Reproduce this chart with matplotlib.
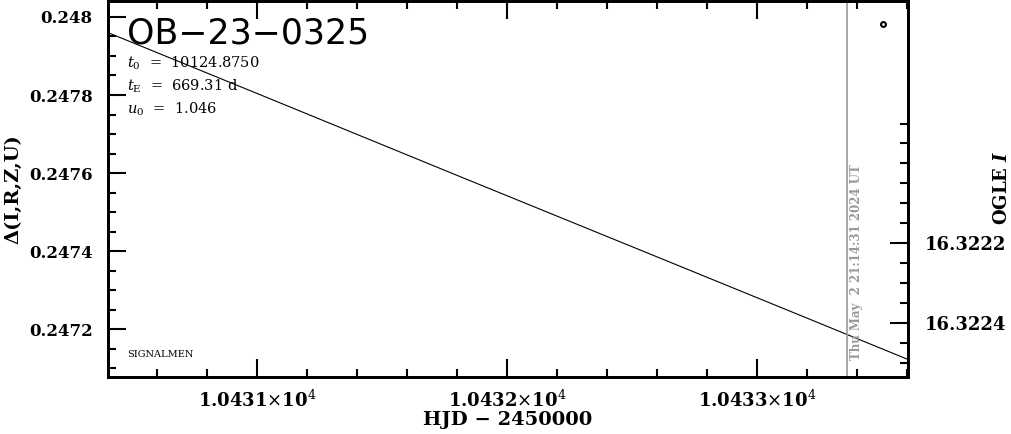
import matplotlib
matplotlib.use('Agg')
import matplotlib.pyplot as plt
from matplotlib.ticker import MultipleLocator, FixedLocator, FuncFormatter

# model curve (HJD-2450000, delta flux)
model_t = [10430.40, 10431.00, 10431.80, 10432.60, 10433.20, 10433.60]
model_d = [0.247961, 0.247804, 0.247594, 0.247385, 0.247228, 0.247123]

# single OGLE point
obs_t = [10433.504]
obs_d = [0.247983]

now_t = 10433.36
now_label = 'Thu May  2 21:14:31 2024 UT'

event = 'OB\u221223\u22120325'
params = [r'$t_0$  =  10124.8750', r'$t_{\rm E}$  =  669.31 d', r'$u_0$  =  1.046']

xlim = (10430.404, 10433.604)
ylim = (0.247077, 0.248041)
mag_lim = (16.322535, 16.321593)
mag_ticks = [16.3222, 16.3224]
mag_minor = [16.32190, 16.32195, 16.32200, 16.32205, 16.32210, 16.32215,
             16.32225, 16.32230, 16.32235, 16.32245, 16.32250]

plt.rcParams['font.family'] = 'DejaVu Serif'
plt.rcParams['mathtext.fontset'] = 'dejavuserif'

fig = plt.figure(figsize=(10.11, 4.34), dpi=100)
ax = fig.add_axes([108 / 1011, 57 / 434, 800 / 1011, 376 / 434])

ax.plot(model_t, model_d, color='black', lw=0.8)
ax.plot(obs_t, obs_d, 'o', ms=3.5, mfc='white', mec='black', mew=1.5)
ax.axvline(now_t, color='#999999', lw=1.2)
ax.text(now_t + 0.037, 0.24712, now_label, rotation=90, color='#999999',
        fontsize=8.5, fontweight='bold', ha='center', va='bottom')

ax.set_xlim(*xlim)
ax.set_ylim(*ylim)

ax.xaxis.set_major_locator(MultipleLocator(1))
ax.xaxis.set_minor_locator(MultipleLocator(0.2))
ax.xaxis.set_major_formatter(FuncFormatter(lambda v, p: r'%.4f$\times$10$^4$' % (v / 1e4)))
ax.yaxis.set_major_locator(MultipleLocator(0.0002))
ax.yaxis.set_minor_locator(MultipleLocator(0.00005))
ax.yaxis.set_major_formatter(FuncFormatter(lambda v, p: ('%.4f' % v).rstrip('0')))

ax.tick_params(which='both', direction='in', top=True, right=False, width=1.5)
ax.tick_params(which='major', length=13)
ax.tick_params(which='minor', length=6)
ax.tick_params(axis='x', labelsize=13, pad=9)
ax.tick_params(axis='y', labelsize=12, pad=11)
for lab in ax.get_xticklabels() + ax.get_yticklabels():
    lab.set_fontweight('bold')
for s in ax.spines.values():
    s.set_linewidth(2)

ax.set_xlabel('HJD \u2212 2450000', fontsize=14, fontweight='bold', labelpad=0)
ax.set_ylabel('\u0394(I,R,Z,U)', fontsize=14, fontweight='bold')
ax.yaxis.set_label_coords(-0.1075, 0.50)

ax2 = ax.twinx()
ax2.set_ylim(*mag_lim)
ax2.yaxis.set_major_locator(FixedLocator(mag_ticks))
ax2.yaxis.set_minor_locator(FixedLocator(mag_minor))
ax2.yaxis.set_major_formatter(FuncFormatter(lambda v, p: '%.4f' % v))
ax2.tick_params(which='both', direction='in', width=1.5, labelsize=13, pad=12)
ax2.tick_params(which='major', length=13)
ax2.tick_params(which='minor', length=6)
for lab in ax2.get_yticklabels():
    lab.set_fontweight('bold')
for s in ax2.spines.values():
    s.set_linewidth(2)
ax2.set_ylabel(r'OGLE $\mathbfit{I}$', fontsize=13, fontweight='bold')
ax2.yaxis.set_label_coords(1.106, 0.503)

ax.text(10430.48, 0.247958, event, fontsize=25, family='DejaVu Sans', va='center')
for i, t in enumerate(params):
    ax.text(10430.48, 0.247880 - i * 0.0000585, t, fontsize=10.5, va='center')
ax.text(10430.48, 0.247134, 'SIGNALMEN', fontsize=7, va='center')

fig.savefig('out.png', dpi=100)
